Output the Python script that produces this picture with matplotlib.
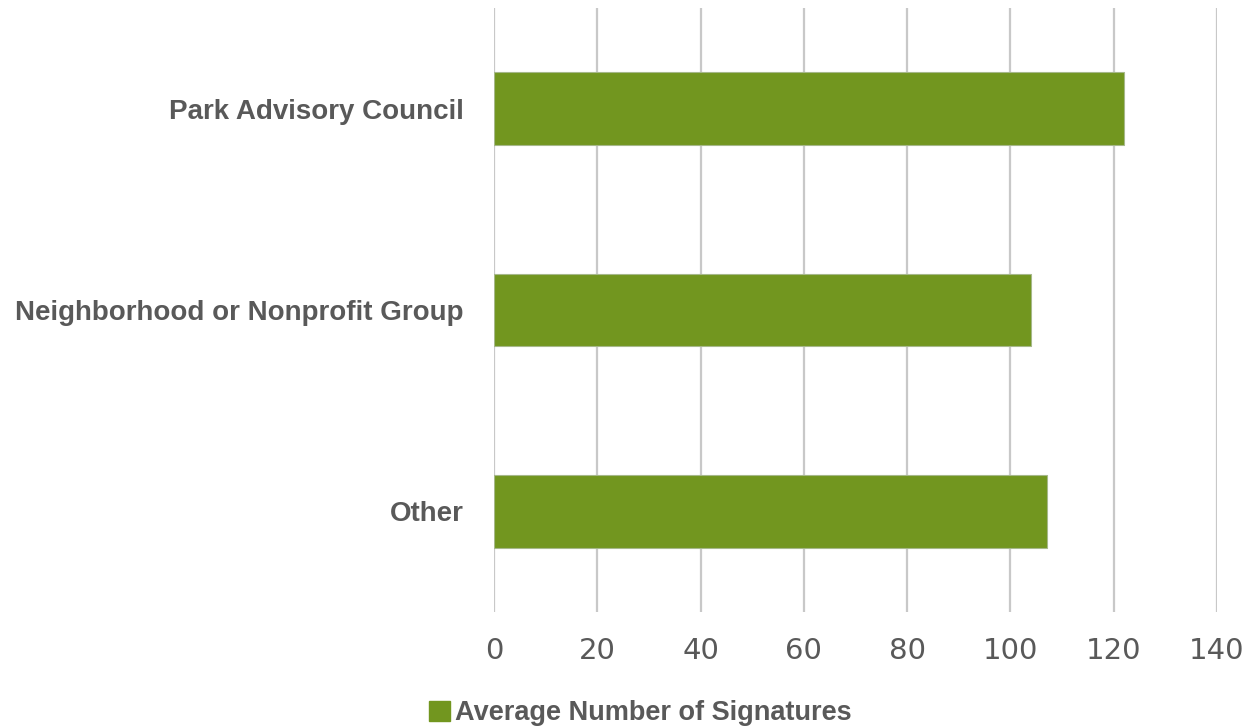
import matplotlib
matplotlib.use("Agg")
import matplotlib.pyplot as plt
from matplotlib.patches import Patch

categories = ["Park Advisory Council", "Neighborhood or Nonprofit Group", "Other"]
values = [122, 104, 107]
series_name = "Average Number of Signatures"
xticks = [0, 20, 40, 60, 80, 100, 120, 140]

plt.rcParams['font.family'] = ['Liberation Sans', 'DejaVu Sans']

fig = plt.figure(figsize=(12.5, 7.28), dpi=100)
ax = fig.add_axes([0.3952, 0.1593, 0.9736 - 0.3952, 0.989 - 0.1593])

green = "#72961F"
gray = "#595959"
ypos = list(range(len(categories)))
ax.barh(ypos, values, height=0.36, color=green, edgecolor="#A6B88A", linewidth=0.8, zorder=3)
ax.set_ylim(len(categories) - 0.5, -0.5)
ax.set_xlim(0, 140)
ax.set_xticks(xticks)
ax.set_xticklabels([str(t) for t in xticks], fontsize=21, color=gray, family='DejaVu Sans')
ax.set_yticks(ypos)
ax.set_yticklabels(categories, fontsize=20, color=gray, fontweight='bold')
ax.tick_params(axis='both', length=0)
ax.tick_params(axis='x', pad=18)
ax.tick_params(axis='y', pad=22)
ax.grid(axis='x', color="#C8C8C8", linewidth=1.6, zorder=0)
for s in ax.spines.values():
    s.set_visible(False)

handle = Patch(facecolor=green, edgecolor=green)
fig.legend([handle], [series_name], loc='center', bbox_to_anchor=(0.512, 0.02),
           frameon=False, handlelength=0.8, handleheight=0.8,
           handletextpad=0.15, labelcolor=gray, prop={'weight': 'bold', 'size': 19.5})

fig.savefig("out.png", dpi=100)
